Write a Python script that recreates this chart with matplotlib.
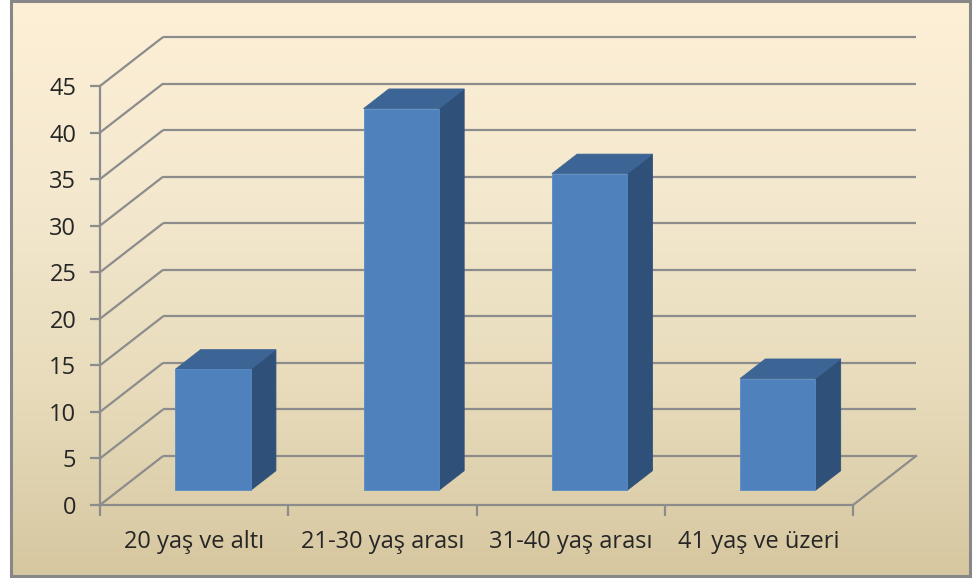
import numpy as np
import matplotlib
matplotlib.use("Agg")
import matplotlib.pyplot as plt
from matplotlib.patches import Polygon, Rectangle
from matplotlib.colors import LinearSegmentedColormap

# Age groups and their counts
categories = ["20 yaş ve altı", "21-30 yaş arası", "31-40 yaş arası", "41 yaş ve üzeri"]
values = [13, 41, 34, 12]
y_ticks = [0, 5, 10, 15, 20, 25, 30, 35, 40, 45]

plt.rcParams["font.family"] = ["Open Sans", "DejaVu Sans"]

W, H = 973, 581
fig = plt.figure(figsize=(W / 100, H / 100), dpi=100)

# Background panel with a vertical cream-to-tan gradient and a grey frame
bg = fig.add_axes([0, 0, 1, 1])
bg.set_xlim(0, W)
bg.set_ylim(H, 0)
bg.axis("off")
grad = LinearSegmentedColormap.from_list(
    "panel", ["#fdf0d6", "#f4e8cf", "#e8dcbc", "#d6c7a0"])
bg.imshow(np.linspace(0, 1, 256).reshape(-1, 1), cmap=grad, aspect="auto",
          extent=[11, 970, 576, 1], zorder=0)
bg.add_patch(Rectangle((11, 1), 959, 575, fill=False, edgecolor="#878787",
                       linewidth=2.2, zorder=1))

# Plot area: front plane of the 3D box
ax = fig.add_axes([100 / W, 76 / H, 753 / W, 419 / H])
ax.patch.set_alpha(0)
n = len(categories)
ax.set_xlim(-0.5, n - 0.5)
ax.set_ylim(0, 45)

grid_col = "#8c8c8c"
lw = 1.6
fs = 17

# Oblique depth offset of the back wall (category units, value units)
dx, dy = 0.335, 5.26

for s in ["top", "right"]:
    ax.spines[s].set_visible(False)
for s in ["left", "bottom"]:
    ax.spines[s].set_color(grid_col)
    ax.spines[s].set_linewidth(lw)

ax.set_yticks(y_ticks)
ax.set_yticklabels([str(t) for t in y_ticks])
ax.tick_params(axis="y", direction="out", length=7, width=lw, color=grid_col,
               labelsize=fs, labelcolor="#262626", pad=10)

ax.set_xticks(np.arange(-0.5, n, 1.0))
ax.set_xticklabels([])
ax.tick_params(axis="x", which="major", direction="out", length=8, width=lw,
               color=grid_col)
ax.set_xticks(np.arange(n), minor=True)
ax.set_xticklabels(categories, minor=True)
ax.tick_params(axis="x", which="minor", length=0, labelsize=fs,
               labelcolor="#262626", pad=18)

# Back-wall gridlines and the diagonal connectors to the front axis
x0, x1 = -0.5, n - 0.5
for t in y_ticks:
    ax.plot([x0, x0 + dx], [t, t + dy], color=grid_col, lw=lw,
            clip_on=False, zorder=1, solid_capstyle="butt")
    ax.plot([x0 + dx, x1 + dx], [t + dy, t + dy], color=grid_col, lw=lw,
            clip_on=False, zorder=1, solid_capstyle="butt")
# Floor right edge
ax.plot([x1, x1 + dx], [0, dy], color=grid_col, lw=lw, clip_on=False, zorder=1)

# 3D columns: front face, top and right side
front_c, top_c, side_c = "#4f81bd", "#3c6494", "#2f5179"
half_w = 0.2
f0, f1 = 0.3, 0.7  # depth range of the columns
for i, v in enumerate(values):
    ox, oy = f0 * dx, f0 * dy
    bx, by = f1 * dx, f1 * dy
    xl, xr = i - half_w, i + half_w
    front = [(xl + ox, oy), (xr + ox, oy), (xr + ox, v + oy), (xl + ox, v + oy)]
    top = [(xl + ox, v + oy), (xr + ox, v + oy), (xr + bx, v + by), (xl + bx, v + by)]
    side = [(xr + ox, oy), (xr + bx, by), (xr + bx, v + by), (xr + ox, v + oy)]
    ax.add_patch(Polygon(side, closed=True, facecolor=side_c, edgecolor=side_c,
                         lw=0.6, zorder=3, clip_on=False))
    ax.add_patch(Polygon(top, closed=True, facecolor=top_c, edgecolor=top_c,
                         lw=0.6, zorder=3, clip_on=False))
    ax.add_patch(Polygon(front, closed=True, facecolor=front_c, edgecolor="#5a8ac4",
                         lw=0.6, zorder=4, clip_on=False))

fig.savefig("out.png", dpi=100)
